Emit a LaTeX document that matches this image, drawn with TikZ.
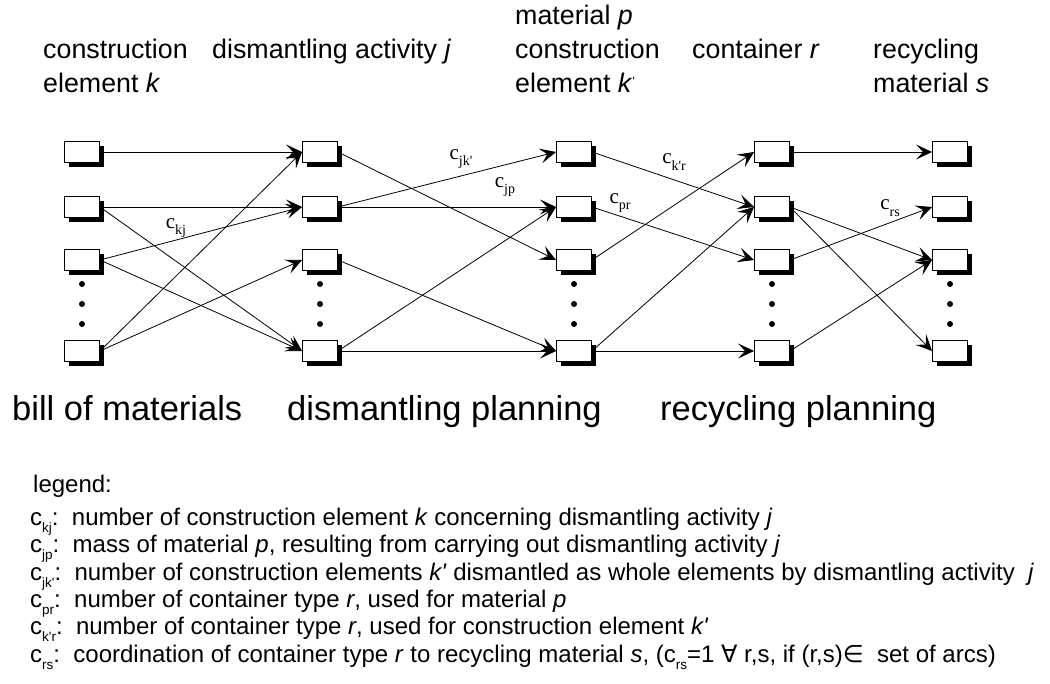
\documentclass[tikz,border=0pt]{standalone}
\usepackage{fontspec}
\setmainfont{Liberation Sans}
\newfontfamily\tms{Liberation Serif}
\newfontfamily\dvs{DejaVu Sans}
\usetikzlibrary{arrows.meta,shadows}
\newcommand\lsub[1]{\raisebox{-0.32em}{\fontsize{13.5}{13.5}\selectfont #1}}
\newcommand\elab[1]{{\tms\fontsize{21}{21}\selectfont c\raisebox{-0.3em}{\fontsize{14}{14}\selectfont #1}}}
\begin{document}
\begin{tikzpicture}[x=1pt,y=-1pt,
  box/.style={draw, line width=0.9pt, fill=white, minimum width=35pt, minimum height=21pt, inner sep=0pt,
    drop shadow={shadow xshift=4.5pt, shadow yshift=-4.5pt, fill=black, opacity=1}},
  arr/.style={line width=0.8pt, -{Stealth[length=16pt,width=15pt,inset=7pt]}},
  vdot/.style={circle, fill=black, inner sep=0pt, minimum size=6pt},
  hdr/.style={anchor=base west, inner sep=0pt, font=\fontsize{26.8}{34}\selectfont},
  big/.style={anchor=base west, inner sep=0pt, font=\fontsize{34.5}{40}\selectfont},
  leg/.style={anchor=base west, inner sep=0pt, font=\fontsize{24}{27}\selectfont},
  lab/.style={inner sep=0pt}
]
\useasboundingbox (0,0) rectangle (1050,684);

% headers
\node[hdr] (h1a) at (43,59) {construction};
\node[hdr] (h1b) at (43,93) {element \textit{k}};
\node[hdr] (h2) at (212,59) {dismantling activity \textit{j}};
\node[hdr] (h3a) at (515,25) {material \textit{p}};
\node[hdr] (h3b) at (515,59) {construction};
\node[hdr] (h3c) at (515,93) {element \textit{k}\raisebox{0.5ex}{\fontsize{12}{12}\selectfont\textquotesingle}};
\node[hdr] (h4) at (692,59) {container \textit{r}};
\node[hdr] (h5a) at (873,59) {recycling};
\node[hdr] (h5b) at (873,93) {material \textit{s}};

% boxes
\foreach \c/\x in {k/82, j/320, p/574, r/772, s/950}{
  \foreach \i/\y in {1/152, 2/207, 3/260, 4/351}{
    \node[box] (\c\i) at (\x,\y) {};
  }
  \foreach \d/\y in {a/284, b/304, c/324}{
    \node[vdot] (\c dot\d) at (\x,\y) {};
  }
}

% arcs
\foreach \a/\b in {k1/j1, k2/j2, k2/j4, k3/j2, k3/j4, k4/j1, k4/j3,
                   j1/p3, j2/p1, j2/p2, j3/p4, j4/p2, j4/p4,
                   p1/r2, p2/r3, p3/r1, p4/r2, p4/r4,
                   r1/s1, r2/s3, r2/s4, r3/s2, r4/s3}{
  \draw[arr] (\a.east) -- (\b.west);
}

% arc labels
\node[lab] (lkj) at (176,228) {\elab{kj}};
\node[lab] (ljk) at (461,159) {\elab{jk\textquotesingle}};
\node[lab] (ljp) at (505,187) {\elab{jp}};
\node[lab] (lkr) at (674,162) {\elab{k\textquotesingle r}};
\node[lab] (lpr) at (620,203) {\elab{pr}};
\node[lab] (lrs) at (890,208) {\elab{rs}};

% bottom titles
\node[big] (t1) at (12,421) {bill of materials};
\node[big] (t2) at (287,421) {dismantling planning};
\node[big] (t3) at (660,421) {recycling planning};

% legend
\node[leg] (lg) at (33,493) {legend:};
\node[leg] (g1) at (30,525) {c\lsub{kj}:~~number of construction element \textit{k} concerning dismantling activity \textit{j}};
\node[leg] (g2) at (30,552) {c\lsub{jp}:~~mass of material \textit{p}, resulting from carrying out dismantling activity \textit{j}};
\node[leg] (g3) at (30,580) {c\lsub{jk\textquotesingle}:~~number of construction elements \textit{k\textquotesingle} dismantled as whole elements by dismantling activity ~\textit{j}};
\node[leg] (g4) at (30,607) {c\lsub{pr}:~~number of container type \textit{r}, used for material \textit{p}};
\node[leg] (g5) at (30,634) {c\lsub{k\textquotesingle r}:~~number of container type \textit{r}, used for construction element \textit{k\textquotesingle}};
\node[leg] (g6) at (30,662) {c\lsub{rs}:~~coordination of container type \textit{r} to recycling material \textit{s}, (c\lsub{rs}=1 {\dvs ∀} r,s, if (r,s){\dvs ∈}~~set of arcs)};
\end{tikzpicture}
\end{document}
